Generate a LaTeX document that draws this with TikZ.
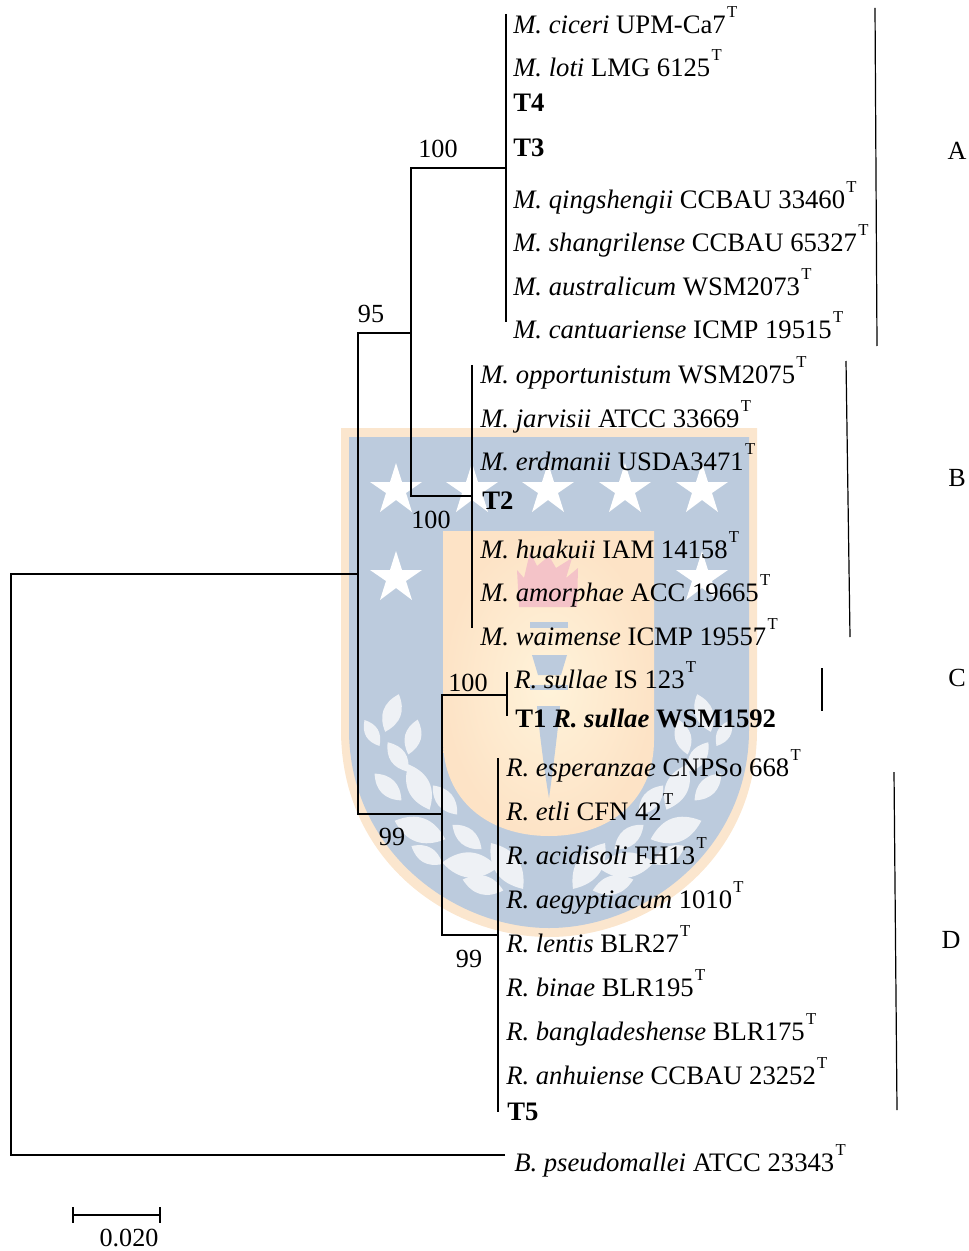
\documentclass[tikz,border=0pt]{standalone}
\usepackage{fontspec}
\setmainfont{Liberation Serif}
\newcommand{\Ty}{\kern1pt\raisebox{12pt}{\fontsize{12.5}{12.5}\selectfont T}}
\newcommand{\Sp}[2]{\textit{#1} #2\Ty}
\definecolor{wblue}{HTML}{BCCBDD}
\definecolor{wrim}{HTML}{FBE6CE}
\definecolor{wleaf}{HTML}{EEF1F5}
\definecolor{wcream}{HTML}{FFF3DA}
\definecolor{wpeach}{HTML}{FDE3C6}
\definecolor{wpink}{HTML}{F4C3C8}
\tikzset{
  lab/.style={anchor=base west,inner sep=0pt,font=\fontsize{20}{22}\selectfont},
  lbl/.style={anchor=base,inner sep=0pt,font=\fontsize{19.6}{22}\selectfont},
  br/.style={line width=1.8pt,black,line cap=butt},
  clade/.style={line width=0.9pt,black},
  wstar/.style={fill=white}
}
\newcommand{\wstarat}[2]{\fill[wstar] (#1,#2-27)
  -- (#1+6,#2-8) -- (#1+26,#2-8) -- (#1+10,#2+3) -- (#1+16,#2+22)
  -- (#1,#2+10) -- (#1-16,#2+22) -- (#1-10,#2+3) -- (#1-26,#2-8) -- (#1-6,#2-8) -- cycle;}
\begin{document}
\begin{tikzpicture}[x=0.75pt,y=-0.75pt]
\useasboundingbox (0,0) rectangle (969,1251);
% watermark
\fill[wrim] (341,428) -- (757,428) -- (757,730) .. controls (757,860) and (650,937) .. (549,937) .. controls (448,937) and (341,860) .. (341,730) -- cycle;
\fill[wblue] (349,437) -- (749,437) -- (749,730) .. controls (749,850) and (645,928) .. (549,928) .. controls (453,928) and (349,850) .. (349,730) -- cycle;
\path[inner color=wcream,outer color=wpeach] (443,531) -- (654,531) -- (654,740) .. controls (654,800) and (610,836) .. (549,836) .. controls (488,836) and (443,800) .. (443,740) -- cycle;
\wstarat{396}{490}\wstarat{472}{490}\wstarat{548}{490}\wstarat{625}{490}\wstarat{702}{490}
\wstarat{396}{578}\wstarat{702}{578}
\fill[wpink] (519,607) -- (517,570) -- (524,578) -- (530,552) -- (537,566) -- (549,556) -- (556,568) -- (572,558) -- (566,578) -- (578,568) -- (577,607) -- cycle;
\fill[wblue] (530,622) rectangle (568,628);
\fill[wblue] (532,655) -- (567,655) -- (561,675) -- (538,675) -- cycle;
\fill[wblue] (530,685) rectangle (568,690);
\fill[wblue] (537,706) .. controls (538,720) and (544,770) .. (549,798) .. controls (553,770) and (559,720) .. (560,706) -- cycle;
\foreach \x/\y/\a/\l in {392/713/70/20,372/733/-60/15,413/737/75/18,398/757/-55/18,388/787/-45/19,419/787/-65/25,445/800/-50/19,420/830/-20/27,467/837/-40/19,427/855/-30/18,470/865/-5/28,483/885/-15/21,507/866/-55/28}{
  \begin{scope}[shift={(\x,\y)},rotate=\a]
    \fill[wleaf] (-\l,0) .. controls ({-\l/3},{\l*0.6}) and ({\l/3},{\l*0.6}) .. (\l,0) .. controls ({\l/3},{-\l*0.6}) and ({-\l/3},{-\l*0.6}) .. cycle;
  \end{scope}
  \begin{scope}[shift={({1096-\x},\y)},rotate={180-\a}]
    \fill[wleaf] (-\l,0) .. controls ({-\l/3},{\l*0.6}) and ({\l/3},{\l*0.6}) .. (\l,0) .. controls ({\l/3},{-\l*0.6}) and ({-\l/3},{-\l*0.6}) .. cycle;
  \end{scope}
}
% tree junctions
\coordinate (root) at (11,574);
\coordinate (rootT) at (358,574);
\coordinate (rootB) at (11,1155);
\coordinate (out) at (505,1155);
\coordinate (n1t) at (358,333);
\coordinate (n1b) at (358,814);
\coordinate (n2t) at (411,168);
\coordinate (n2m) at (411,333);
\coordinate (n2b) at (411,496);
\coordinate (na) at (506,168);
\coordinate (nat) at (506,14);
\coordinate (nab) at (506,322);
\coordinate (nb) at (472,496);
\coordinate (nbt) at (472,365);
\coordinate (nbb) at (472,628);
\coordinate (n3t) at (442,695);
\coordinate (n3m) at (442,814);
\coordinate (n3b) at (442,935);
\coordinate (nc) at (507,695);
\coordinate (nct) at (507,672);
\coordinate (ncb) at (507,716);
\coordinate (nd) at (498,935);
\coordinate (ndt) at (498,758);
\coordinate (ndb) at (498,1112);
\draw[br] (out) -- (rootB) -- (root) -- (rootT);
\draw[br] (n2m) -- (n1t) -- (n1b) -- (n3m);
\draw[br] (na) -- (n2t) -- (n2b) -- (nb);
\draw[br] (nat) -- (nab);
\draw[br] (nbt) -- (nbb);
\draw[br] (nc) -- (n3t) -- (n3b) -- (nd);
\draw[br] (nct) -- (ncb);
\draw[br] (ndt) -- (ndb);
% taxa
\node[lab] (a1) at (513,34) {\Sp{M. ciceri}{UPM-Ca7}};
\node[lab] (a2) at (513,77) {\Sp{M. loti}{LMG 6125}};
\node[lab] (a3) at (513,112) {\textbf{T4}};
\node[lab] (a4) at (513,157) {\textbf{T3}};
\node[lab] (a5) at (513,209) {\Sp{M. qingshengii}{CCBAU 33460}};
\node[lab] (a6) at (513,252) {\Sp{M. shangrilense}{CCBAU 65327}};
\node[lab] (a7) at (513,296) {\Sp{M. australicum}{WSM2073}};
\node[lab] (a8) at (513,339) {\Sp{M. cantuariense}{ICMP 19515}};
\node[lab] (b1) at (480,383) {\Sp{M. opportunistum}{WSM2075}};
\node[lab] (b2) at (480,427) {\Sp{M. jarvisii}{ATCC 33669}};
\node[lab] (b3) at (480,470) {\Sp{M. erdmanii}{USDA3471}};
\node[lab] (b4) at (482,509) {\textbf{T2}};
\node[lab] (b5) at (480,558) {\Sp{M. huakuii}{IAM 14158}};
\node[lab] (b6) at (480,601) {\Sp{M. amorphae}{ACC 19665}};
\node[lab] (b7) at (480,645) {\Sp{M. waimense}{ICMP 19557}};
\node[lab] (c1) at (514,688) {\Sp{R. sullae}{IS 123}};
\node[lab] (c2) at (515,727) {\textbf{T1 \textit{R. sullae} WSM1592}};
\node[lab] (d1) at (506,776) {\Sp{R. esperanzae}{CNPSo 668}};
\node[lab] (d2) at (506,820) {\Sp{R. etli}{CFN 42}};
\node[lab] (d3) at (506,864) {\Sp{R. acidisoli}{FH13}};
\node[lab] (d4) at (506,908) {\Sp{R. aegyptiacum}{1010}};
\node[lab] (d5) at (506,952) {\Sp{R. lentis}{BLR27}};
\node[lab] (d6) at (506,996) {\Sp{R. binae}{BLR195}};
\node[lab] (d7) at (506,1040) {\Sp{R. bangladeshense}{BLR175}};
\node[lab] (d8) at (506,1084) {\Sp{R. anhuiense}{CCBAU 23252}};
\node[lab] (d9) at (507,1120) {\textbf{T5}};
\node[lab] (o1) at (514,1171) {\Sp{B. pseudomallei}{ATCC 23343}};
% bootstrap
\node[lbl] (s1) at (438,158) {100};
\node[lbl] (s2) at (371,323) {95};
\node[lbl] (s3) at (431,528) {100};
\node[lbl] (s4) at (468,691) {100};
\node[lbl] (s5) at (392,845) {99};
\node[lbl] (s6) at (469,967) {99};
% clades
\coordinate (Aa) at (875,8); \coordinate (Ab) at (877,346);
\coordinate (Ba) at (846,361); \coordinate (Bb) at (850,637);
\coordinate (Ca) at (822,668); \coordinate (Cb) at (822,711);
\coordinate (Da) at (894,772); \coordinate (Db) at (897,1110);
\draw[clade] (Aa) -- (Ab);
\draw[clade] (Ba) -- (Bb);
\draw[clade] (Ca) -- (Cb);
\draw[clade] (Da) -- (Db);
\node[lbl] (A) at (957,160) {A};
\node[lbl] (B) at (957,486) {B};
\node[lbl] (C) at (957,686) {C};
\node[lbl] (D) at (951,948) {D};
% scale
\coordinate (sa) at (73,1215); \coordinate (sb) at (160,1215);
\coordinate (sat) at (73,1207); \coordinate (sab) at (73,1223);
\coordinate (sbt) at (160,1207); \coordinate (sbb) at (160,1223);
\draw[br] (sa) -- (sb);
\draw[br] (sat) -- (sab);
\draw[br] (sbt) -- (sbb);
\node[lbl] (sl) at (129,1246) {0.020};
\end{tikzpicture}
\end{document}
